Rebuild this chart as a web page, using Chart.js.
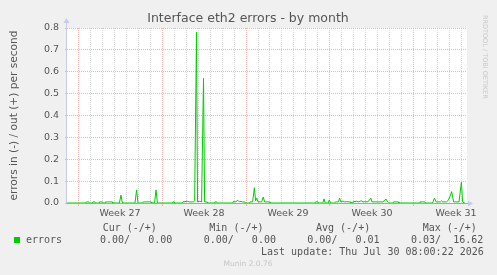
<!DOCTYPE html>
<html>
<head>
<meta charset="utf-8">
<script src="https://cdn.jsdelivr.net/npm/chart.js@4/dist/chart.umd.min.js"></script>
<style>
  html, body { margin: 0; padding: 0; background: #f0f0f0; }
  canvas { display: block; }
</style>
</head>
<body>
<canvas id="chart" width="497" height="275"></canvas>
<script>
// days since monday of week 27, and error rate (out, per second)
const dayOffsets = [
  -0.92, 0.65, 0.7, 0.9, 0.95, 1.2, 1.25, 1.4, 1.45, 1.75, 1.8, 2.05, 2.1,
  2.25, 2.3, 2.85, 2.9, 3.45, 3.58, 3.68, 3.75, 4.75, 4.88, 5.0, 5.4, 5.45,
  6.1, 6.15, 6.38, 6.5, 6.62, 7.85, 7.9, 8.0, 8.05, 8.7, 8.75, 9.1, 9.3, 9.6,
  9.72, 9.875, 9.96, 10.1, 10.3, 10.46, 10.55, 10.75, 10.8, 11.35, 11.4, 11.55,
  11.6, 12.9, 12.95, 13.1, 13.33, 13.45, 13.58, 13.7, 13.9, 13.95, 14.3, 14.35,
  14.55, 14.7, 14.8, 14.9, 15.0, 15.3, 15.44, 15.55, 15.95, 16.0, 19.75, 19.8,
  20.0, 20.05, 20.4, 20.5, 20.6, 20.85, 20.94, 21.05, 21.4, 21.45, 21.7, 21.8,
  21.9, 22.05, 22.2, 22.4, 22.7, 22.75, 22.85, 22.9, 23.2, 23.35, 23.6, 23.75,
  24.0, 24.15, 24.4, 24.5, 25.4, 25.67, 25.8, 25.9, 26.25, 26.3, 26.7, 26.75,
  28.45, 28.5, 28.9, 28.95, 29.55, 29.7, 29.85, 30.2, 30.3, 30.4, 30.7, 30.85,
  31.0, 31.14, 31.3, 31.75, 31.95, 32.05, 32.1, 32.15
];
const errorRates = [
  0, 0, .005, .005, 0, 0, .005, .005, 0, 0, .005, .005, 0,
  0, .005, .005, 0, 0, .036, .005, 0, 0, .06, 0, 0, .005,
  .005, 0, 0, .06, 0, 0, .005, .005, 0, 0, .005, .008, .005, .005,
  .01, .78, .005, .008, .005, .57, .005, .005, 0, 0, .005, .005,
  0, 0, .008, .005, .012, .005, .008, .005, .005, 0, 0, .005,
  .005, .07, .01, .022, .005, .005, .027, .005, .005, 0, 0, .005,
  .005, 0, 0, .019, 0, 0, .014, 0, 0, .005, .005, .022,
  .005, .008, .005, .006, .005, 0, 0, .005, .008, .005, .01, .005,
  .006, .005, .022, .005, .005, .018, .005, 0, 0, .005, .005, 0,
  0, .005, .005, 0, 0, .022, .005, .005, .01, .005, .005, .012,
  .03, .052, .005, .005, .095, .005, .005, 0
];

const weekLabels = ['Week 27', 'Week 28', 'Week 29', 'Week 30', 'Week 31'];
const yTicks = [0.0, 0.1, 0.2, 0.3, 0.4, 0.5, 0.6, 0.7, 0.8];

const chartTitle = 'Interface eth2 errors - by month';
const legendHeaders = ['Cur (-/+)', 'Min (-/+)', 'Avg (-/+)', 'Max (-/+)'];
const legendValues = ['0.00/   0.00', '0.00/   0.00', '0.00/   0.01', '0.03/  16.62'];
const lastUpdate = 'Last update: Thu Jul 30 08:00:22 2026';

const majorGrid = '#efb4b4';
const minorGrid = '#d9d9d9';
const textColor = '#555555';
const axisColor = '#c5cbef';

Chart.defaults.font.family = 'DejaVu Sans';

const points = dayOffsets.map((d, i) => ({ x: d, y: errorRates[i] }));

const munin = {
  id: 'munin',
  beforeDraw(chart) {
    const { ctx, chartArea: a } = chart;
    ctx.save();
    ctx.fillStyle = '#f0f0f0';
    ctx.fillRect(0, 0, chart.width, chart.height);
    ctx.fillStyle = '#ffffff';
    ctx.fillRect(a.left, a.top, a.right - a.left, a.bottom - a.top);
    ctx.restore();
  },
  afterDatasetsDraw(chart) {
    const { ctx, chartArea: a, scales } = chart;
    const y0 = Math.round(scales.y.getPixelForValue(0)) + 0.5;
    const x0 = Math.round(a.left) - 0.5;
    ctx.save();
    ctx.strokeStyle = axisColor;
    ctx.lineWidth = 1;
    ctx.beginPath();
    ctx.moveTo(x0, y0);
    ctx.lineTo(x0, a.top - 6);
    ctx.stroke();
    ctx.strokeStyle = '#a4a4c8';
    ctx.beginPath();
    ctx.moveTo(x0, y0);
    ctx.lineTo(a.right + 2, y0);
    ctx.stroke();
    ctx.fillStyle = axisColor;
    ctx.beginPath();
    ctx.moveTo(x0 - 3, a.top - 5);
    ctx.lineTo(x0 + 3, a.top - 5);
    ctx.lineTo(x0, a.top - 10);
    ctx.closePath();
    ctx.fill();
    ctx.beginPath();
    ctx.moveTo(a.right + 1, y0 - 3);
    ctx.lineTo(a.right + 1, y0 + 3);
    ctx.lineTo(a.right + 6, y0);
    ctx.closePath();
    ctx.fill();
    ctx.restore();
  },
  afterDraw(chart) {
    const { ctx } = chart;
    ctx.save();
    ctx.fillStyle = textColor;
    ctx.font = '12.5px "DejaVu Sans"';
    ctx.textAlign = 'center';
    ctx.textBaseline = 'middle';
    ctx.fillText(chartTitle, 248, 18.5);
    ctx.restore();

    ctx.save();
    ctx.fillStyle = '#c8c8c8';
    ctx.font = '6.5px "DejaVu Sans"';
    ctx.translate(485, 15);
    ctx.rotate(Math.PI / 2);
    ctx.textBaseline = 'middle';
    ctx.fillText('RRDTOOL / TOBI OETIKER', 0, 0);
    ctx.restore();

    ctx.save();
    ctx.font = '10px "DejaVu Sans Mono"';
    ctx.fillStyle = textColor;
    ctx.textBaseline = 'middle';
    const headX = [102.7, 209.3, 316, 422.7];
    const valX = [100, 203.7, 307.3, 411];
    legendHeaders.forEach((h, i) => ctx.fillText(h, headX[i], 228));
    legendValues.forEach((v, i) => ctx.fillText(v, valX[i], 240.5));
    ctx.fillText('errors', 26, 240.5);
    ctx.fillText(lastUpdate, 261, 252.5);
    ctx.fillStyle = '#00cc00';
    ctx.fillRect(14, 237, 6, 6);
    ctx.fillStyle = '#c6c6c6';
    ctx.font = '7.5px "DejaVu Sans"';
    ctx.textAlign = 'center';
    ctx.fillText('Munin 2.0.76', 248, 264);
    ctx.restore();
  }
};

new Chart(document.getElementById('chart'), {
  type: 'line',
  data: {
    datasets: [{
      label: 'errors',
      data: points,
      borderColor: '#00cc00',
      borderWidth: 1,
      pointRadius: 0,
      tension: 0,
      fill: false
    }]
  },
  options: {
    responsive: false,
    animation: false,
    layout: { padding: { left: 0, right: 30, top: 28, bottom: 54 } },
    plugins: {
      legend: { display: false },
      tooltip: { enabled: false },
      title: { display: false }
    },
    scales: {
      x: {
        type: 'linear',
        min: -0.917,
        max: 32.417,
        afterFit: s => { s.height = 18; },
        afterBuildTicks: s => {
          const t = [];
          for (let k = 0; k <= 64; k++) t.push({ value: k / 2 });
          s.ticks = t;
        },
        border: { display: false, dash: [1, 1] },
        grid: {
          color: c => {
            const v = c.tick.value;
            if (v % 1 !== 0) return 'rgba(0,0,0,0)';
            return v % 7 === 0 ? majorGrid : minorGrid;
          },
          tickColor: c => (c.tick.value % 7 === 0 ? majorGrid : 'rgba(0,0,0,0)'),
          tickLength: 3
        },
        ticks: {
          autoSkip: false,
          maxRotation: 0,
          padding: 2,
          color: textColor,
          font: { size: 9.5 },
          callback: v => (v % 7 === 3.5 ? weekLabels[(v - 3.5) / 7] : '')
        }
      },
      y: {
        min: 0,
        max: 0.8,
        afterFit: s => { s.width = 67; },
        afterBuildTicks: s => {
          const t = [];
          yTicks.forEach((v, i) => {
            t.push({ value: v });
            if (i < yTicks.length - 1) t.push({ value: v + 0.05 });
          });
          s.ticks = t;
        },
        border: { display: false, dash: [1, 1] },
        grid: {
          drawTicks: true,
          tickLength: 2,
          tickColor: c => (Math.round(c.tick.value * 100) % 10 === 0 ? majorGrid : minorGrid),
          color: c => (Math.round(c.tick.value * 100) % 10 === 0 ? majorGrid : minorGrid)
        },
        ticks: {
          padding: 6,
          color: textColor,
          font: { size: 9.5 },
          callback: v => (Math.round(v * 100) % 10 === 0 ? v.toFixed(1) : '')
        },
        title: {
          display: true,
          text: 'errors in (-) / out (+) per second',
          color: textColor,
          font: { size: 10.6 },
          padding: { top: 7.5, bottom: 0 }
        }
      }
    }
  },
  plugins: [munin]
});
</script>
</body>
</html>
